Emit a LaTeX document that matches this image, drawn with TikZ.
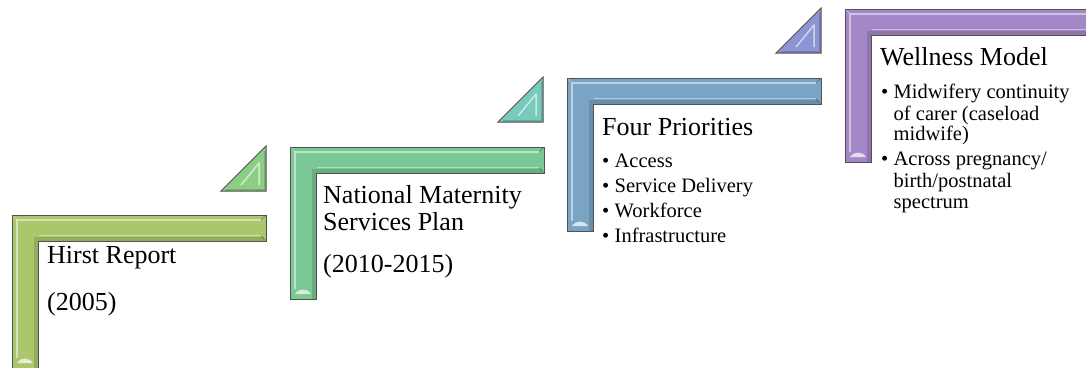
\documentclass[tikz,border=0pt]{standalone}
\usepackage{fontspec}
\setmainfont{Liberation Serif}
\usetikzlibrary{calc}
\definecolor{Edge}{RGB}{82,82,82}
\definecolor{HirstFill}{RGB}{172,198,108}
\definecolor{PlanFill}{RGB}{122,200,148}
\definecolor{FourFill}{RGB}{122,163,196}
\definecolor{WellFill}{RGB}{163,135,198}
\definecolor{RiseA}{RGB}{140,206,132}
\definecolor{RiseB}{RGB}{120,202,186}
\definecolor{RiseC}{RGB}{140,148,212}
\tikzstyle{headtext}=[anchor=base west,inner sep=0pt,font=\fontsize{26}{30}\selectfont]
\tikzstyle{itemtext}=[anchor=base west,inner sep=0pt,font=\fontsize{20.5}{24}\selectfont]
\tikzstyle{edgeline}=[draw=Edge,line width=1pt,line join=miter]
\newcommand*{\itemdot}{\makebox[12.5pt][l]{\textbullet}}
% one stair: left x, top y, bottom y, colour
\newcommand*{\stepbar}[4]{
    \pgfmathsetmacro\sbR{#1+254}
    \pgfmathsetmacro\sbX{#1+26}
    \pgfmathsetmacro\sbY{#2+26}
    \fill [#4] (#1,#2) -- (\sbR,#2) -- (\sbR,\sbY) -- (\sbX,\sbY) -- (\sbX,#3) -- (#1,#3) -- cycle;
    \draw [black,opacity=.13,line width=4pt] ({\sbX-2},#3) -- ({\sbX-2},{\sbY-2}) -- ({\sbR-2},{\sbY-2});
    \draw [white,opacity=.5,line width=2.5pt] ({#1+5},{#3-10}) -- ({#1+5},{#2+5}) -- ({\sbR-5},{#2+5});
    \draw [white,opacity=.45,line width=1pt] ({\sbX+1},{\sbY-6}) -- ({\sbR-5},{\sbY-6});
    \draw [white,opacity=.35,line width=.8pt] (#1,#2) -- ({#1+5},{#2+5});
    \draw [black,opacity=.25,line width=.8pt] (\sbR,#2) -- ({\sbR-5},{#2+5}) (\sbR,\sbY) -- ({\sbR-5},{\sbY-5});
    \fill [white,opacity=.7] ({#1+5},{#3-5}) .. controls ({#1+9},{#3-11}) and ({\sbX-9},{#3-11}) .. ({\sbX-5},{#3-5}) -- cycle;
    \draw [edgeline] (#1,#2) -- (\sbR,#2) -- (\sbR,\sbY) -- (\sbX,\sbY) -- (\sbX,#3) -- (#1,#3) -- cycle;
}
% small riser: right x, bottom y, colour
\newcommand*{\riserblock}[3]{
    \fill [#3] ({#1-45},#2) -- (#1,#2) -- (#1,{#2-45}) -- cycle;
    \draw [white,opacity=.6,line width=1.5pt,line join=round] ({#1-25},{#2-6}) -- ({#1-7},{#2-28}) -- ({#1-7},{#2-6});
    \draw [black,opacity=.15,line width=2pt] ({#1-40},{#2-1.5}) -- ({#1-1.5},{#2-1.5}) -- ({#1-1.5},{#2-40});
    \draw [edgeline] ({#1-45},#2) -- (#1,#2) -- (#1,{#2-45}) -- cycle;
}

\begin{document}
\begin{tikzpicture}[x=1pt,y=-1pt]
    \clip (0,0) rectangle (1086,367);
    \fill [white] (0,0) rectangle (1086,367);

    % stairs
    \stepbar{12}{215}{368}{HirstFill}
    \stepbar{290}{147}{299}{PlanFill}
    \stepbar{567}{78}{231}{FourFill}
    \stepbar{845}{9}{162}{WellFill}

    \riserblock{266}{191}{RiseA}
    \riserblock{543}{122}{RiseB}
    \riserblock{821}{53}{RiseC}

    % Hirst Report
    \node [headtext] (Hirst Title) at (47,263) {Hirst Report};
    \node [headtext] (Hirst Year) at (47,310) {(2005)};

    % National Maternity Services Plan
    \node [headtext] (Plan Title) at (323,203) {National Maternity};
    \node [headtext] (Plan Title2) at (323,230) {Services Plan};
    \node [headtext] (Plan Year) at (323,272) {(2010-2015)};

    % Four Priorities
    \node [headtext] (Four Title) at (602,135) {Four Priorities};
    \node [itemtext] (Four Access) at (602,167) {\itemdot Access};
    \node [itemtext] (Four Service) at (602,192) {\itemdot Service Delivery};
    \node [itemtext] (Four Workforce) at (602,217) {\itemdot Workforce};
    \node [itemtext] (Four Infra) at (602,242) {\itemdot Infrastructure};

    % Wellness Model
    \node [headtext] (Well Title) at (880,65) {Wellness Model};
    \node [itemtext] (Well Carer) at (881,98) {\itemdot Midwifery continuity};
    \node [itemtext] (Well Carer2) at (893.5,120) {of carer (caseload};
    \node [itemtext] (Well Carer3) at (893.5,140) {midwife)};
    \node [itemtext] (Well Span) at (881,165) {\itemdot Across pregnancy/};
    \node [itemtext] (Well Span2) at (893.5,187) {birth/postnatal};
    \node [itemtext] (Well Span3) at (893.5,208) {spectrum};
\end{tikzpicture}
\end{document}
